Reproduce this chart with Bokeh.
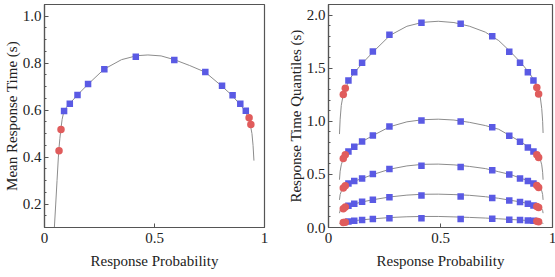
from bokeh.plotting import figure
from bokeh.layouts import row
from bokeh.models import FixedTicker, SingleIntervalTicker, Range1d, PrintfTickFormatter
from bokeh.embed import file_html
from bokeh.resources import INLINE

# Response probability of each condition (shared by both panels)
prob = [0.066, 0.075, 0.089, 0.115, 0.150, 0.198, 0.272, 0.415,
        0.590, 0.731, 0.807, 0.855, 0.890, 0.915, 0.930, 0.938]
# the two most extreme conditions on each side are shown separately
extreme = [True, True, False, False, False, False, False, False,
           False, False, False, False, False, False, True, True]

# Observed mean response time (s)
mean_rt = [0.427, 0.517, 0.596, 0.627, 0.664, 0.711, 0.774, 0.827,
           0.814, 0.762, 0.704, 0.663, 0.627, 0.597, 0.568, 0.539]

# Observed response time quantiles (s): .1, .3, .5, .7, .9
q10 = [0.047, 0.050, 0.056, 0.063, 0.070, 0.079, 0.088, 0.088,
       0.079, 0.082, 0.072, 0.070, 0.066, 0.063, 0.060, 0.053]
q30 = [0.176, 0.192, 0.204, 0.223, 0.242, 0.261, 0.286, 0.301,
       0.292, 0.277, 0.254, 0.239, 0.223, 0.207, 0.198, 0.188]
q50 = [0.371, 0.393, 0.414, 0.437, 0.461, 0.503, 0.550, 0.581,
       0.569, 0.540, 0.499, 0.461, 0.437, 0.414, 0.395, 0.377]
q70 = [0.650, 0.685, 0.716, 0.760, 0.810, 0.867, 0.951, 1.008,
       0.998, 0.945, 0.863, 0.807, 0.753, 0.716, 0.685, 0.659]
q90 = [1.252, 1.311, 1.384, 1.462, 1.551, 1.657, 1.815, 1.928,
       1.919, 1.802, 1.654, 1.551, 1.462, 1.384, 1.318, 1.258]

# Model prediction: mean response time
mean_curve_p = [0.044, 0.051, 0.057, 0.063, 0.066, 0.070, 0.074, 0.080, 0.088, 0.100,
                0.115, 0.150, 0.200, 0.270, 0.350, 0.420, 0.470, 0.530, 0.590, 0.660,
                0.730, 0.800, 0.850, 0.885, 0.912, 0.926, 0.936, 0.943, 0.948, 0.952]
mean_curve_v = [0.085, 0.200, 0.300, 0.400, 0.440, 0.480, 0.515, 0.560, 0.595, 0.612,
                0.628, 0.665, 0.712, 0.774, 0.815, 0.832, 0.835, 0.831, 0.815, 0.790,
                0.762, 0.707, 0.665, 0.628, 0.597, 0.568, 0.535, 0.500, 0.450, 0.385]

# Model prediction: response time quantiles
quant_curve_p = [0.049, 0.052, 0.057, 0.063, 0.070, 0.080, 0.095, 0.120, 0.155,
                 0.200, 0.275, 0.350, 0.420, 0.490, 0.560, 0.630, 0.700, 0.760,
                 0.810, 0.860, 0.895, 0.920, 0.935, 0.945, 0.952, 0.956, 0.958]
q90_curve = [0.880, 1.020, 1.150, 1.220, 1.270, 1.330, 1.400, 1.470, 1.555,
             1.655, 1.810, 1.895, 1.932, 1.942, 1.930, 1.895, 1.840, 1.760,
             1.660, 1.550, 1.460, 1.380, 1.310, 1.235, 1.120, 1.000, 0.890]
q70_curve = [0.450, 0.530, 0.590, 0.630, 0.665, 0.700, 0.730, 0.765, 0.815,
             0.868, 0.950, 0.995, 1.015, 1.020, 1.012, 0.990, 0.960, 0.925,
             0.865, 0.805, 0.755, 0.715, 0.680, 0.645, 0.590, 0.520, 0.450]
q50_curve = [0.260, 0.310, 0.340, 0.360, 0.380, 0.400, 0.418, 0.440, 0.465,
             0.500, 0.550, 0.580, 0.595, 0.597, 0.590, 0.575, 0.555, 0.525,
             0.500, 0.463, 0.438, 0.415, 0.395, 0.375, 0.345, 0.310, 0.260]
q30_curve = [0.135, 0.160, 0.175, 0.185, 0.195, 0.203, 0.210, 0.225, 0.243,
             0.262, 0.288, 0.305, 0.313, 0.314, 0.310, 0.303, 0.290, 0.275,
             0.257, 0.240, 0.224, 0.210, 0.200, 0.190, 0.175, 0.160, 0.135]
q10_curve = [0.035, 0.042, 0.047, 0.050, 0.053, 0.056, 0.060, 0.066, 0.073,
             0.082, 0.094, 0.101, 0.104, 0.104, 0.100, 0.095, 0.089, 0.082,
             0.076, 0.070, 0.065, 0.060, 0.056, 0.052, 0.047, 0.042, 0.035]

FONT = "Liberation Serif"
TEXT = "#222222"
FRAME = "#555555"
CURVE = "#8c8c8c"
BLUE = "#5a5ae4"
RED = "#e05c5c"


def make_panel(frame_w, border_left, border_right, y_range, y_interval, n_minor, y_label):
    p = figure(frame_width=frame_w, frame_height=223, output_backend="svg",
               toolbar_location=None,
               x_range=Range1d(0, 1), y_range=Range1d(*y_range),
               min_border_left=border_left, min_border_right=border_right,
               min_border_top=4, min_border_bottom=50)
    p.grid.visible = False
    p.background_fill_color = "white"
    p.border_fill_color = "white"
    p.outline_line_color = FRAME
    p.outline_line_width = 1.2

    p.xaxis.ticker = FixedTicker(ticks=[0, 0.5, 1])
    p.yaxis.ticker = SingleIntervalTicker(interval=y_interval, num_minor_ticks=n_minor)
    p.yaxis.formatter = PrintfTickFormatter(format="%.1f")
    p.xaxis.axis_label = "Response Probability"
    p.yaxis.axis_label = y_label
    for ax in (p.xaxis, p.yaxis):
        ax.axis_line_color = FRAME
        ax.axis_line_width = 1.2
        ax.major_tick_in = 4
        ax.major_tick_out = 0
        ax.minor_tick_in = 2
        ax.minor_tick_out = 0
        ax.major_tick_line_color = FRAME
        ax.minor_tick_line_color = FRAME
        ax.major_label_text_font = FONT
        ax.major_label_text_font_size = "15px"
        ax.major_label_text_color = TEXT
        ax.axis_label_text_font = FONT
        ax.axis_label_text_font_size = "15px"
        ax.axis_label_text_font_style = "normal"
        ax.axis_label_text_color = TEXT
    p.xaxis.minor_tick_line_color = None
    p.xaxis.major_label_standoff = 5
    p.xaxis.axis_label_standoff = 7
    p.yaxis.major_label_standoff = 3
    p.yaxis.axis_label_standoff = 0
    return p


def add_points(p, values):
    xs_mid = [x for x, e in zip(prob, extreme) if not e]
    ys_mid = [y for y, e in zip(values, extreme) if not e]
    xs_ext = [x for x, e in zip(prob, extreme) if e]
    ys_ext = [y for y, e in zip(values, extreme) if e]
    p.scatter(xs_mid, ys_mid, marker="square", size=6.5, fill_color=BLUE, line_color=None)
    p.scatter(xs_ext, ys_ext, marker="circle", size=7.5, fill_color=RED, line_color=None)


# Left panel: mean response time
left = make_panel(220, 39, 12, (0.1, 1.05), 0.2, 4, "Mean Response Time (s)")
left.line(mean_curve_p, mean_curve_v, line_color=CURVE, line_width=1)
add_points(left, mean_rt)

# Right panel: response time quantiles
right = make_panel(224, 52, 4, (0.0, 2.1), 0.5, 5, "Response Time Quantiles (s)")
for curve in (q10_curve, q30_curve, q50_curve, q70_curve, q90_curve):
    right.line(quant_curve_p, curve, line_color=CURVE, line_width=1)
for obs in (q10, q30, q50, q70, q90):
    add_points(right, obs)

layout = row(left, right)
open("out.html", "w").write(file_html(layout, INLINE))
